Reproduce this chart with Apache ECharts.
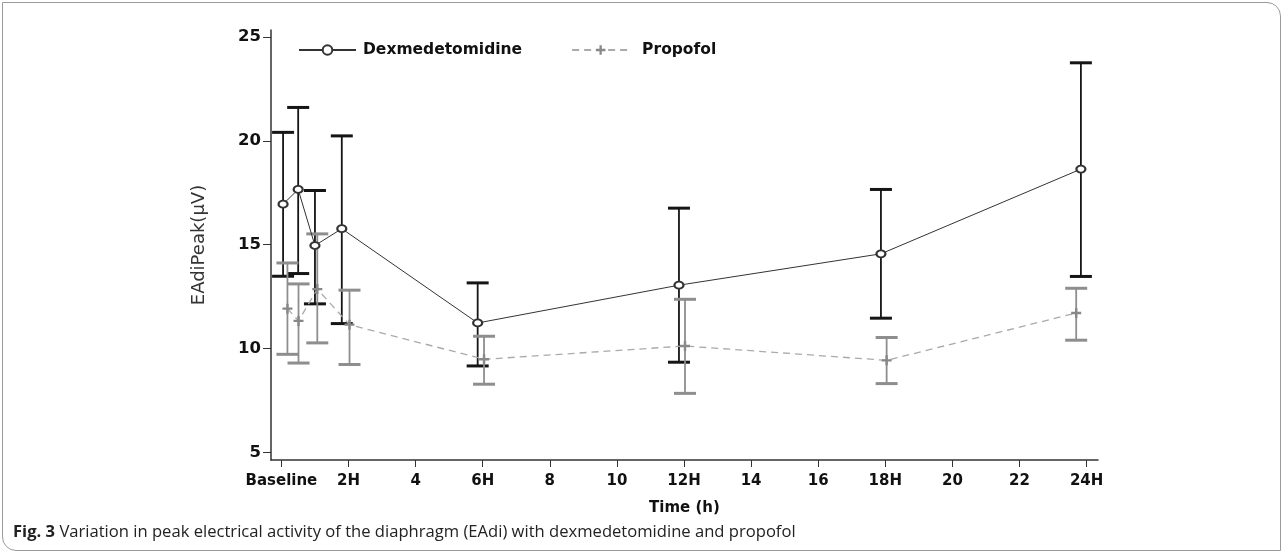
<!DOCTYPE html>
<html>
<head>
<meta charset="utf-8">
<script src="https://cdn.jsdelivr.net/npm/echarts@6/dist/echarts.min.js"></script>
<style>
  html, body { margin: 0; padding: 0; background: #fff; }
  #wrap { position: relative; width: 1287px; height: 559px; overflow: hidden; }
  #frame { position: absolute; left: 2px; top: 2px; width: 1277px; height: 547px;
           border: 1px solid #9a9a9a; border-radius: 0 14px 0 14px; }
  #chart { position: absolute; left: 0; top: 0; width: 1287px; height: 559px; }
  #caption { position: absolute; left: 13px; top: 519px; font-family: "Open Sans", sans-serif;
             font-size: 16.6px; color: #222; white-space: nowrap; }
  #caption b { font-weight: bold; }
</style>
</head>
<body>
<div id="wrap">
  <div id="frame"></div>
  <div id="chart"></div>
  <div id="caption"><b>Fig. 3</b> Variation in peak electrical activity of the diaphragm (EAdi) with dexmedetomidine and propofol</div>
</div>
<script>
// time points (hours) and EAdi peak values
const dexTime = [0.05, 0.5, 1.0, 1.8, 5.85, 11.85, 17.87, 23.83]
const dexMean = [16.95, 17.66, 14.96, 15.77, 11.23, 13.05, 14.56, 18.64]
const dexLow = [13.48, 13.61, 12.15, 11.2, 9.16, 9.34, 11.46, 13.47]
const dexHigh = [20.41, 21.61, 17.61, 20.24, 13.16, 16.76, 17.66, 23.76]

const propTime = [0.18, 0.51, 1.07, 2.03, 6.04, 12.03, 18.04, 23.69]
const propMean = [11.92, 11.33, 12.86, 11.15, 9.48, 10.12, 9.43, 11.71]
const propLow = [9.72, 9.3, 10.27, 9.23, 8.28, 7.84, 8.31, 10.4]
const propHigh = [14.12, 13.11, 15.52, 12.81, 10.59, 12.37, 10.53, 12.9]

const xTicks = [0, 2, 4, 6, 8, 10, 12, 14, 16, 18, 20, 22, 24]
const xTickLabels = ['Baseline', '2H', '4', '6H', '8', '10', '12H', '14', '16', '18H', '20', '22', '24H']
const yTicks = [5, 10, 15, 20, 25]

const plusPath = 'path://M-1.2,-5L1.2,-5L1.2,-1.2L5,-1.2L5,1.2L1.2,1.2L1.2,5L-1.2,5L-1.2,1.2L-5,1.2L-5,-1.2L-1.2,-1.2Z'

function pairs(xs, ys) { return xs.map((x, i) => [x, ys[i]]) }
function bars(xs, lo, hi) { return xs.map((x, i) => [x, lo[i], hi[i]]) }

function errorBar(color) {
  return function (params, api) {
    const x = api.value(0)
    const lo = api.coord([x, api.value(1)])
    const hi = api.coord([x, api.value(2)])
    const w = 11
    return {
      type: 'group',
      children: [
        { type: 'line', shape: { x1: lo[0], y1: lo[1], x2: hi[0], y2: hi[1] }, style: { stroke: color, lineWidth: 1.8 } },
        { type: 'line', shape: { x1: hi[0] - w, y1: hi[1], x2: hi[0] + w, y2: hi[1] }, style: { stroke: color, lineWidth: 3 } },
        { type: 'line', shape: { x1: lo[0] - w, y1: lo[1], x2: lo[0] + w, y2: lo[1] }, style: { stroke: color, lineWidth: 3 } }
      ]
    }
  }
}

const axisFont = { fontFamily: 'DejaVu Sans', fontWeight: 'bold', color: '#111' }

const chart = echarts.init(document.getElementById('chart'))
chart.setOption({
  animation: false,
  grid: { left: 271, top: 30, width: 827, height: 430 },
  legend: {
    data: [
      { name: 'Dexmedetomidine' },
      { name: 'Propofol', textStyle: { padding: [0, 0, 0, 8] } }
    ],
    left: 293, top: 37,
    itemWidth: 57, itemHeight: 12, itemGap: 49,
    textStyle: { ...axisFont, fontSize: 15.5, padding: [0, 0, 0, 2] }
  },
  xAxis: {
    type: 'value', min: -0.31, max: 24.34,
    name: 'Time (h)', nameLocation: 'middle', nameGap: 41,
    nameTextStyle: { ...axisFont, fontSize: 15 },
    axisLine: { show: true, onZero: false, lineStyle: { color: '#333', width: 1.5 } },
    axisTick: { show: true, length: 7, lineStyle: { color: '#333' }, customValues: xTicks },
    axisLabel: {
      ...axisFont, fontSize: 15, margin: 14, customValues: xTicks,
      formatter: (v) => xTickLabels[xTicks.indexOf(v)] ?? ''
    },
    splitLine: { show: false }
  },
  yAxis: {
    type: 'value', min: 4.63, max: 25.34,
    name: 'EAdiPeak(μV)', nameLocation: 'middle', nameGap: 63,
    nameTextStyle: { fontFamily: 'DejaVu Sans', fontSize: 18, color: '#333' },
    axisLine: { show: true, onZero: false, lineStyle: { color: '#333', width: 1.5 } },
    axisTick: { show: true, length: 8, lineStyle: { color: '#333' }, customValues: yTicks },
    axisLabel: { ...axisFont, fontSize: 16.5, margin: 10, customValues: yTicks },
    splitLine: { show: false }
  },
  series: [
    {
      name: 'Dexmedetomidine err', type: 'custom', z: 2,
      renderItem: errorBar('#151515'),
      encode: { x: 0, y: [1, 2] },
      data: bars(dexTime, dexLow, dexHigh)
    },
    {
      name: 'Propofol err', type: 'custom', z: 2,
      renderItem: errorBar('#8e8e8e'),
      encode: { x: 0, y: [1, 2] },
      data: bars(propTime, propLow, propHigh)
    },
    {
      name: 'Dexmedetomidine', type: 'line', z: 3,
      data: pairs(dexTime, dexMean),
      symbol: 'emptyCircle', symbolSize: [9, 7],
      itemStyle: { color: '#333', borderWidth: 1 },
      lineStyle: { color: '#333', width: 1 }
    },
    {
      name: 'Propofol', type: 'line', z: 3,
      data: pairs(propTime, propMean),
      symbol: plusPath, symbolSize: 10,
      itemStyle: { color: '#888' },
      lineStyle: { color: '#aaa', width: 1.3, type: [7, 5] }
    }
  ]
})
</script>
</body>
</html>
